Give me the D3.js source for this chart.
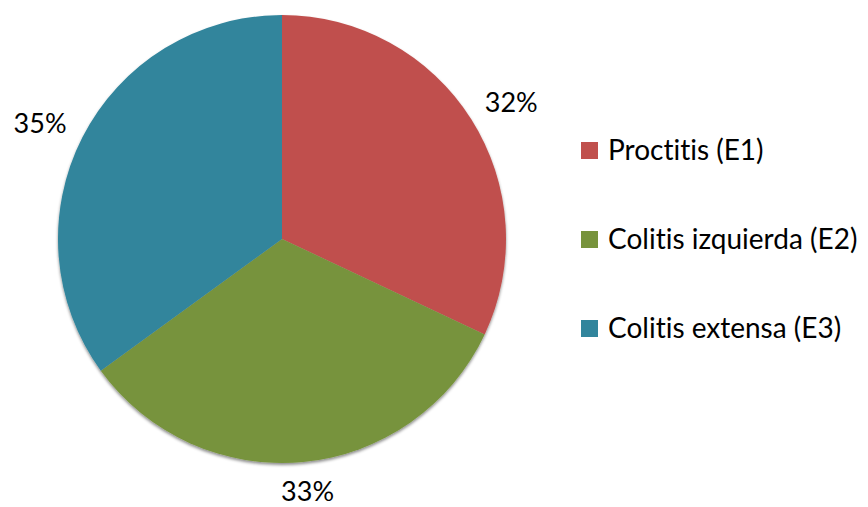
<!DOCTYPE html>
<html>
<head>
<meta charset="utf-8">
<script src="https://cdn.jsdelivr.net/npm/d3@7"></script>
<style>
  html, body { margin: 0; padding: 0; background: #fff; }
  svg { display: block; font-family: Lato, "Open Sans", sans-serif; font-variant-ligatures: none; }
</style>
</head>
<body>
<svg id="chart" width="868" height="507"></svg>
<script>
// Extent of ulcerative colitis (Montreal classification)
const categories = ["Proctitis (E1)", "Colitis izquierda (E2)", "Colitis extensa (E3)"];
const values = [32, 33, 35];
const colors = ["#C0504D", "#77933C", "#31859C"];

const width = 868, height = 507;
const svg = d3.select("#chart");
const cx = 282, cy = 239, r = 224;
const labelSize = 27, legendSize = 28;

const defs = svg.append("defs");
const f = defs.append("filter").attr("id", "shadow")
  .attr("x", "-10%").attr("y", "-10%").attr("width", "120%").attr("height", "120%");
f.append("feDropShadow").attr("dx", 0).attr("dy", 2).attr("stdDeviation", 1.8)
  .attr("flood-color", "#000").attr("flood-opacity", 0.45);

const pie = d3.pie().sort(null).value(d => d)(values);
const arc = d3.arc().innerRadius(0).outerRadius(r);

const g = svg.append("g").attr("transform", `translate(${cx},${cy})`);
g.append("g").attr("filter", "url(#shadow)")
  .selectAll("path").data(pie).join("path")
  .attr("d", arc)
  .attr("fill", (d, i) => colors[i]);

// Percentage labels placed just outside each slice, pushed out by half their box
const total = d3.sum(values);
const R0 = r + 21;
g.selectAll("text.pct").data(pie).join("text")
  .attr("class", "pct")
  .attr("text-anchor", "middle")
  .attr("dominant-baseline", "central")
  .attr("font-size", labelSize)
  .attr("fill", "#000")
  .text(d => Math.round(d.data / total * 100) + "%")
  .each(function (d) {
    const bb = this.getBBox();
    const a = (d.startAngle + d.endAngle) / 2;
    const s = Math.sin(a), c = Math.cos(a);
    const x = R0 * s + bb.width / 2 * s;
    let y = -R0 * c - (bb.height * 0.7) / 2 * c;
    // keep the label's box inside the drawing area
    const maxY = height - cy - (bb.y + bb.height);
    y = Math.min(y, maxY - 0.5);
    d3.select(this).attr("transform", `translate(${x},${y})`);
  });

// Legend
const legend = svg.append("g").attr("transform", "translate(581,142)");
const rows = legend.selectAll("g").data(categories).join("g")
  .attr("transform", (d, i) => `translate(0,${i * 89})`);
rows.append("rect").attr("width", 17).attr("height", 17)
  .attr("fill", (d, i) => colors[i]);
rows.append("text").attr("x", 27).attr("y", 18)
  .attr("font-size", legendSize).attr("fill", "#000")
  .text(d => d);
</script>
</body>
</html>
